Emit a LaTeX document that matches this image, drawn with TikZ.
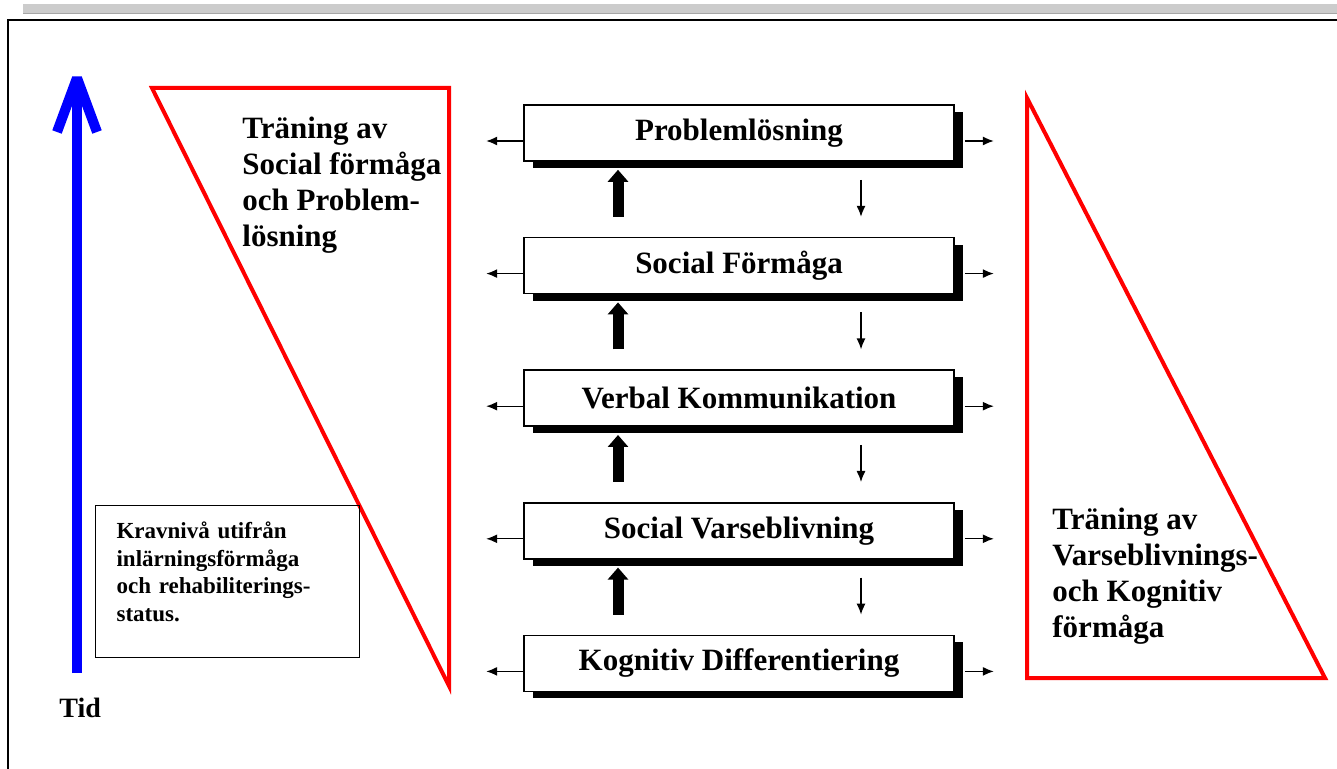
\documentclass[tikz,border=0pt]{standalone}
\usepackage{fontspec}
\setmainfont{Liberation Serif}
\usetikzlibrary{positioning}
\usetikzlibrary{shadows}
\usetikzlibrary{arrows.meta}
\tikzset{   level/.style = {rectangle, draw = black, line width = 0.8pt, fill = white, minimum width = 215pt, minimum height = 28pt,
                            font = \fontsize{15.5}{18}\selectfont\bfseries,
                            drop shadow = {shadow xshift = 4.5pt, shadow yshift = -3.5pt, fill = black, opacity = 1}},
            tekst/.style = {align = left, inner sep = 0pt, font = \fontsize{15.5}{18}\selectfont\bfseries},
            side/.style = {line width = 0.65pt, -{Latex[length = 5.5pt, width = 4.5pt]}},
            climb/.style = {line width = 5.5pt, -{Triangle[length = 6pt, width = 10pt]}},
            ramp/.style = {red, line width = 2pt}}
\begin{document}
\begin{tikzpicture}[x=0.5pt, y=-0.5pt]
                        \useasboundingbox (0,0) rectangle (1337,769);
                        % page frame
                        \fill[gray!40] (23,4) rectangle (1337,14);
                        \draw[gray!70, line width = 0.5pt] (23,14) -- (1337,14);
                        \draw[line width = 1pt] (8,769) -- (8,20) -- (1337,20);
                        % time axis
                        \draw[blue, line width = 5pt] (77,673) -- (77,80);
                        \draw[blue, line width = 5pt, line join = bevel] (57,132) -- (77,78) -- (97,132);
                        \node[anchor = base west, inner sep = 0pt, font = \fontsize{14}{16}\selectfont\bfseries] (tid) at (59,717) {Tid};
                        % red wedges
                        \draw[ramp] (152,88) -- (449,88) -- (449,686) -- cycle;
                        \draw[ramp] (1027,98) -- (1027,678) -- (1325,678) -- cycle;
                        \node[tekst, anchor = base west] (trainsoc) at (242,247) {Träning av\\Social förmåga\\och Problem-\\lösning};
                        \node[tekst, anchor = base west] (trainkog) at (1052,637) {Träning av\\Varseblivnings-\\och Kognitiv\\förmåga};
                        \node[draw, line width = 0.6pt, anchor = north west, minimum height = 76pt, text width = 111pt, inner xsep = 10.5pt,
                              align = left, font = \fontsize{11.5}{13.85}\selectfont\bfseries] (krav) at (95,505)
                              {Kravnivå utifrån\\inlärningsförmåga\\och rehabiliterings-\\status.\rule[-10pt]{0pt}{10pt}};
                        % levels
                        \node[level] (prob) at (739,133) {Problemlösning};
                        \node[level, below = 37.5pt of prob] (social) {Social Förmåga};
                        \node[level, below = 37.5pt of social] (verbal) {Verbal Kommunikation};
                        \node[level, below = 37.5pt of verbal] (varse) {Social Varseblivning};
                        \node[level, below = 37.5pt of varse] (kogn) {Kognitiv Differentiering};
                        % side arrows
                        \draw[side] ([yshift = -4pt]prob.west) -- ++(-37,0);
                        \draw[side] ([xshift = 5pt, yshift = -4pt]prob.east) -- ++(29,0);
                        \draw[side] ([yshift = -4pt]social.west) -- ++(-37,0);
                        \draw[side] ([xshift = 5pt, yshift = -4pt]social.east) -- ++(29,0);
                        \draw[side] ([yshift = -4pt]verbal.west) -- ++(-37,0);
                        \draw[side] ([xshift = 5pt, yshift = -4pt]verbal.east) -- ++(29,0);
                        \draw[side] ([yshift = -4pt]varse.west) -- ++(-37,0);
                        \draw[side] ([xshift = 5pt, yshift = -4pt]varse.east) -- ++(29,0);
                        \draw[side] ([yshift = -4pt]kogn.west) -- ++(-37,0);
                        \draw[side] ([xshift = 5pt, yshift = -4pt]kogn.east) -- ++(29,0);
                        % up and down between levels
                        \draw[climb] ([xshift = -60.5pt, yshift = 10pt]social.north) -- ([xshift = -60.5pt, yshift = -4pt]prob.south);
                        \draw[climb] ([xshift = -60.5pt, yshift = 10pt]verbal.north) -- ([xshift = -60.5pt, yshift = -4pt]social.south);
                        \draw[climb] ([xshift = -60.5pt, yshift = 10pt]varse.north) -- ([xshift = -60.5pt, yshift = -4pt]verbal.south);
                        \draw[climb] ([xshift = -60.5pt, yshift = 10pt]kogn.north) -- ([xshift = -60.5pt, yshift = -4pt]varse.south);
                        \draw[side] ([xshift = 61pt, yshift = -9pt]prob.south) -- ([xshift = 61pt, yshift = 10pt]social.north);
                        \draw[side] ([xshift = 61pt, yshift = -9pt]social.south) -- ([xshift = 61pt, yshift = 10pt]verbal.north);
                        \draw[side] ([xshift = 61pt, yshift = -9pt]verbal.south) -- ([xshift = 61pt, yshift = 10pt]varse.north);
                        \draw[side] ([xshift = 61pt, yshift = -9pt]varse.south) -- ([xshift = 61pt, yshift = 10pt]kogn.north);
                      \end{tikzpicture}
\end{document}
